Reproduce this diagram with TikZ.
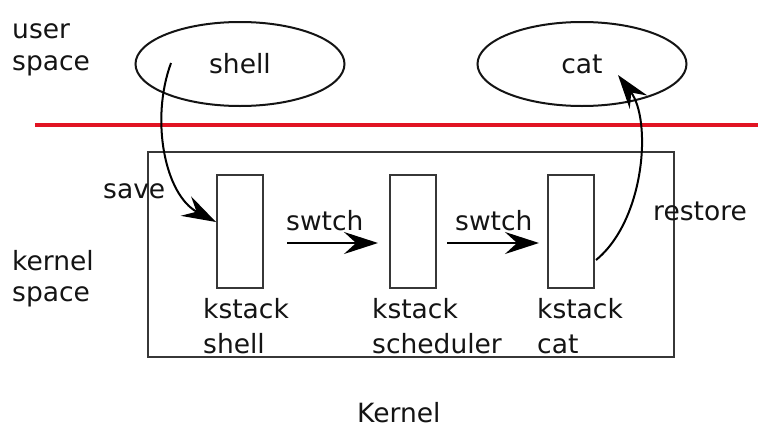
\documentclass[tikz,border=0pt]{standalone}
\usepackage{fontspec}
\setmainfont{DejaVu Sans}
\usetikzlibrary{arrows.meta,calc,shapes.geometric}
\definecolor{ink}{RGB}{20,20,20}
\definecolor{divider}{RGB}{225,20,35}
\tikzset{
  lbl/.style={anchor=base west, inner sep=0pt, text=ink, font=\fontsize{26.5}{30}\selectfont},
  proc/.style={draw=ink, line width=2pt, ellipse, minimum width=209pt, minimum height=84pt, inner sep=0pt, text=ink, font=\fontsize{26.5}{30}\selectfont},
  kstackbox/.style={draw=ink!85, line width=2pt, rectangle, minimum width=46pt, minimum height=113pt, inner sep=0pt},
  flow/.style={draw=black, line width=2pt, -{Stealth[length=34pt,width=22pt,inset=12pt]}}
}
\begin{document}
\begin{tikzpicture}[x=1pt,y=-1pt]
\useasboundingbox[fill=white] (0,0) rectangle (758,429);
% user space
\node[lbl] (u1) at (12,38) {user};
\node[lbl] (u2) at (12,70) {space};
\node[proc] (shell) at (240,64) {shell};
\node[proc] (cat) at (582,64) {cat};
% divider
\draw[divider, line width=4pt] (35,125) -- (758,125);
% kernel box
\node[draw=ink!85, line width=2pt, rectangle, minimum width=526pt, minimum height=205pt, inner sep=0pt] (kbox) at (411,254.5) {};
\node[lbl] (k1a) at (12,270) {kernel};
\node[lbl] (k1b) at (12,301) {space};
% stacks
\node[kstackbox] (ks1) at (240,231.5) {};
\node[kstackbox] (ks2) at (413,231.5) {};
\node[kstackbox] (ks3) at (571,231.5) {};
\node[lbl] (l1a) at (203,318) {kstack};
\node[lbl] (l1b) at (203,353) {shell};
\node[lbl] (l2a) at (372,318) {kstack};
\node[lbl] (l2b) at (372,353) {scheduler};
\node[lbl] (l3a) at (537,318) {kstack};
\node[lbl] (l3b) at (537,353) {cat};
% labels
\node[lbl] (save) at (103,198) {save};
\node[lbl] (sw1) at (286,230) {swtch};
\node[lbl] (sw2) at (455,230) {swtch};
\node[lbl] (rest) at (653,220) {restore};
\node[lbl] (kern) at (357,422) {Kernel};
% arrows
\coordinate (savestart) at (171,63);
\coordinate (catend) at (618,75);
\draw[flow] (savestart) .. controls (150,120) and (165,195) .. ([yshift=9.5pt]ks1.west);
\draw[flow] ([xshift=23pt,yshift=-11.5pt]ks1.east) -- ([xshift=-11pt,yshift=-11.5pt]ks2.west);
\draw[flow] ([xshift=10pt,yshift=-11.5pt]ks2.east) -- ([xshift=-8pt,yshift=-11.5pt]ks3.west);
\draw[flow] ([xshift=1pt,yshift=-28.5pt]ks3.east) .. controls (645,220) and (652,120) .. (catend);
\end{tikzpicture}
\end{document}
